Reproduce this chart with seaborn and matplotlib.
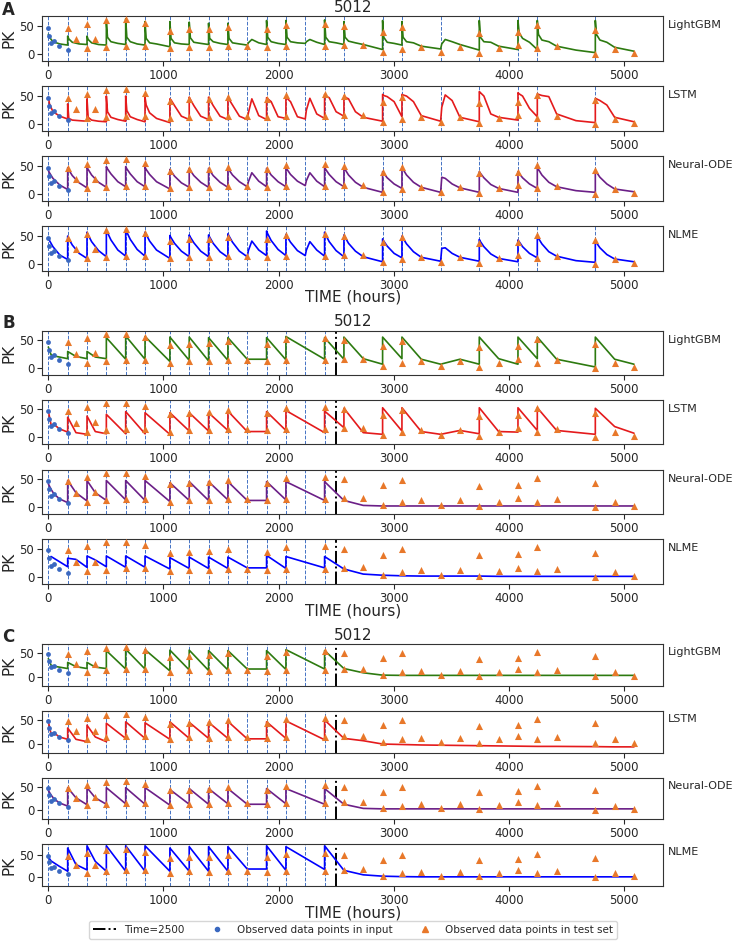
"""
PK predictions for subject 5012: LightGBM / LSTM / Neural-ODE / NLME
Three panels (A, B, C), four rows each, observed points on top.
"""

import numpy as np
import pandas as pd
import matplotlib
matplotlib.use("Agg")
import matplotlib.pyplot as plt
from matplotlib.lines import Line2D
import seaborn as sns

# ---------------------------------------------------------------------------
# Observed data
# ---------------------------------------------------------------------------

input_time = [0, 2, 24, 48, 96, 168]
input_pk = [47, 33, 20, 23, 14, 7]

test_time = [168, 240, 336, 336, 408, 504, 504, 672, 672, 840, 840,
             1056, 1056, 1224, 1224, 1392, 1392, 1560, 1560, 1728,
             1896, 1896, 2064, 2064, 2400, 2400, 2568, 2568, 2736,
             2904, 2904, 3072, 3072, 3240, 3408, 3576, 3744, 3744,
             3912, 4080, 4080, 4248, 4248, 4416, 4752, 4752, 4920, 5088]
test_pk = [47, 26, 54, 10, 27, 61, 13, 62, 15, 56, 15,
           42, 10, 44, 13, 45, 12, 49, 14, 14,
           44, 12, 52, 14, 54, 14, 50, 16, 17,
           39, 3, 49, 9, 12, 3, 12, 38, 2,
           10, 40, 16, 52, 10, 14, 43, 0.5, 9, 2]

dose_time = [0, 168, 336, 504, 672, 840, 1056, 1224, 1392, 1560, 1728,
             1896, 2064, 2232, 2400, 2568, 2904, 3072, 3408, 3744, 4080,
             4248, 4752]

CUTOFF = 2500

# ---------------------------------------------------------------------------
# Panel A: dense predictions (one row per dose: pre, peak, +10, +40, +100 ...)
# ---------------------------------------------------------------------------

a_time = [
    0, 10, 40, 100,
    168, 168, 178, 208, 268,
    336, 336, 346, 376, 436,
    504, 504, 514, 544, 604,
    672, 672, 682, 712, 772,
    840, 840, 850, 880, 940,
    1056, 1056, 1066, 1096, 1156,
    1224, 1224, 1234, 1264, 1324,
    1392, 1392, 1402, 1432, 1492,
    1560, 1560, 1570, 1600, 1660,
    1728, 1728, 1738, 1768, 1828,
    1896, 1896, 1906, 1936, 1996,
    2064, 2064, 2074, 2104, 2164,
    2232, 2232, 2242, 2272, 2332,
    2400, 2400, 2410, 2440, 2500,
    2568, 2568, 2578, 2608, 2668, 2736,
    2904, 2904, 2914, 2944, 3004,
    3072, 3072, 3082, 3112, 3172, 3240,
    3408, 3408, 3418, 3448, 3508, 3576,
    3744, 3744, 3754, 3784, 3844, 3912,
    4080, 4080, 4090, 4120, 4180,
    4248, 4248, 4258, 4288, 4348, 4416, 4584,
    4752, 4752, 4762, 4792, 4852, 4920, 5088,
]

a_lgbm = [
    35, 30, 22, 18,
    16, 32, 27, 21, 18,
    17, 32, 26, 20, 17,
    16, 58, 30, 22, 19,
    17, 63, 30, 22, 18,
    16, 58, 28, 20, 18,
    13, 58, 28, 20, 18,
    17, 57, 29, 21, 19,
    17, 55, 28, 22, 19,
    17, 55, 28, 20, 18,
    16, 16, 20, 26, 20,
    17, 60, 30, 22, 19,
    17, 60, 30, 22, 20,
    19, 19, 22, 26, 21,
    17, 61, 30, 22, 20,
    17, 58, 30, 23, 20, 17,
    8, 60, 30, 21, 19,
    16, 58, 30, 22, 20, 14,
    9, 9, 18, 26, 22, 17,
    7, 60, 30, 22, 21, 14,
    8, 60, 38, 28, 21,
    8, 60, 35, 25, 22, 14, 7,
    2.5, 60, 35, 25, 21, 12, 5,
]

a_lstm = [
    48, 36, 22, 14,
    9, 36, 10, 7, 6,
    5, 45, 12, 7, 5,
    4, 50, 22, 12, 8,
    5, 50, 24, 13, 8,
    4, 48, 34, 20, 10,
    2.5, 45, 43, 33, 14,
    8, 48, 44, 33, 14,
    8, 48, 44, 33, 14,
    8, 48, 44, 34, 14,
    8, 8, 20, 45, 15,
    8, 47, 45, 40, 13,
    10, 48, 46, 40, 13,
    9, 9, 25, 46, 18,
    10, 53, 50, 47, 22,
    14, 50, 48, 45, 22, 12,
    5, 53, 51, 49, 40,
    13, 53, 52, 50, 40, 15,
    5, 5, 30, 52, 42, 12,
    4, 58, 56, 50, 18, 12,
    7, 56, 54, 50, 28,
    13, 54, 53, 51, 49, 18, 6,
    2.5, 46, 45, 42, 34, 12, 4,
]

a_node = [
    42, 38, 28, 16,
    8, 47, 43, 33, 20,
    11, 48, 44, 34, 21,
    12, 49, 45, 36, 22,
    13, 49, 45, 36, 22,
    13, 48, 44, 35, 22,
    9, 44, 41, 32, 20,
    12, 46, 42, 33, 21,
    12, 46, 42, 33, 21,
    12, 46, 43, 34, 22,
    13, 13, 22, 38, 23,
    13, 46, 43, 34, 22,
    13, 47, 44, 35, 23,
    15, 15, 24, 38, 23,
    13, 48, 44, 35, 22,
    13, 48, 44, 34, 21, 12,
    3, 40, 37, 29, 18,
    10, 48, 44, 34, 21, 12,
    3, 3, 30, 28, 18, 11,
    3, 40, 37, 29, 17, 10,
    3, 40, 37, 29, 18,
    10, 48, 44, 34, 21, 13, 6,
    3, 42, 39, 30, 18, 9, 4,
]

a_nlme = [
    47, 42, 31, 16,
    8, 50, 45, 34, 19,
    10, 57, 52, 40, 24,
    13, 61, 56, 43, 25,
    14, 62, 57, 44, 26,
    14, 57, 53, 41, 25,
    10, 51, 47, 37, 23,
    13, 52, 48, 38, 23,
    13, 52, 48, 37, 22,
    12, 54, 50, 39, 23,
    13, 13, 24, 41, 25,
    15, 59, 54, 42, 26,
    15, 53, 49, 39, 24,
    15, 15, 25, 40, 25,
    14, 57, 52, 40, 24,
    13, 52, 48, 37, 23, 13,
    4, 45, 41, 32, 19,
    11, 50, 46, 36, 22, 12,
    5, 5, 28, 29, 19, 12,
    5, 44, 40, 31, 18, 10,
    4, 43, 40, 31, 19,
    11, 50, 46, 36, 22, 14, 6,
    3, 41, 38, 29, 17, 9, 4,
]

# ---------------------------------------------------------------------------
# Panels B and C: predictions at the observation times only
# ---------------------------------------------------------------------------

bc_time = [
    0, 24, 48, 96, 168, 168, 240, 336, 336, 408,
    504, 504, 672, 672, 840, 840, 1056, 1056, 1224, 1224,
    1392, 1392, 1560, 1560, 1728, 1896, 1896, 2064, 2064, 2400,
    2400, 2568, 2568, 2736, 2904, 2904, 3072, 3072, 3240, 3408,
    3576, 3744, 3744, 3912, 4080, 4080, 4248, 4248, 4416, 4752,
    4752, 4920, 5088,
]

b_lgbm = [
    38, 24, 22, 20, 17, 30, 21, 17, 30, 20,
    17, 55, 16, 58, 16, 57, 12, 56, 14, 56,
    13, 55, 14, 55, 16, 16, 55, 15, 57, 16,
    55, 16, 56, 17, 7, 56, 17, 56, 16, 7,
    16, 7, 56, 17, 7, 56, 17, 56, 16, 2,
    56, 16, 7,
]
b_lstm = [
    47, 22, 23, 15, 9, 36, 8, 5, 38, 10,
    6, 41, 6, 46, 6, 44, 5, 44, 11, 44,
    11, 44, 12, 47, 10, 10, 46, 12, 48, 8,
    47, 17, 52, 8, 5, 53, 11, 53, 10, 5,
    12, 6, 53, 10, 9, 53, 12, 53, 12, 5,
    52, 19, 7,
]
b_node = [
    42, 32, 24, 15, 8, 48, 26, 11, 48, 26,
    12, 48, 13, 48, 12, 48, 10, 44, 12, 46,
    12, 46, 13, 46, 12, 12, 46, 13, 46, 12,
    46, 12, 12, 3, 2, 2, 2, 2, 2, 2,
    2, 2, 2, 2, 2, 2, 2, 2, 2, 2,
    2, 2, 2,
]
b_nlme = [
    33, 36, 33, 27, 18, 33, 31, 17, 37, 30,
    18, 37, 17, 37, 17, 37, 14, 34, 15, 35,
    15, 35, 15, 35, 16, 16, 38, 15, 36, 16,
    36, 14, 14, 5, 3, 3, 2, 2, 1.5, 1.5,
    1.5, 1.5, 1.5, 1, 1, 1, 1, 1, 1, 1,
    1, 1, 1,
]

c_lgbm = [
    38, 24, 22, 20, 17, 30, 21, 17, 30, 20,
    17, 55, 16, 58, 16, 57, 12, 56, 14, 56,
    13, 55, 14, 55, 16, 16, 55, 15, 57, 16,
    55, 17, 17, 8, 3, 3, 2.5, 2.5, 2.5, 2.5,
    2.5, 2.5, 2.5, 2.5, 2.5, 2.5, 2.5, 2.5, 2.5, 2.5,
    2.5, 2.5, 2.5,
]
c_lstm = [
    47, 20, 23, 14, 9, 33, 9, 4, 39, 14,
    4, 43, 11, 46, 11, 44, 9, 46, 11, 45,
    11, 45, 11, 47, 10, 10, 46, 11, 48, 8,
    50, 11, 11, 6, -1, -1, -2, -2, -3, -3.5,
    -4, -4.5, -4.5, -5, -5.5, -5.5, -6, -6, -6, -6.5,
    -6.5, -7, -7,
]
c_node = [
    42, 32, 24, 15, 8, 48, 26, 11, 48, 26,
    12, 48, 13, 48, 12, 48, 10, 44, 12, 46,
    12, 46, 13, 46, 12, 12, 46, 13, 46, 12,
    46, 12, 12, 3, 2, 2, 2, 2, 2, 2,
    2, 2, 2, 2, 2, 2, 2, 2, 2, 2,
    2, 2, 2,
]
c_nlme = [
    45, 36, 32, 24, 13, 65, 28, 16, 70, 35,
    13, 70, 13, 70, 13, 70, 13, 65, 13, 68,
    13, 68, 13, 68, 18, 18, 70, 15, 68, 17,
    70, 15, 15, 5, 2, 2, 1, 1, 0.5, 0.5,
    0.5, 0.5, 0.5, 0.5, 0.5, 0.5, 0.5, 0.5, 0.5, 0.5,
    0.5, 0.5, 0.5,
]

model_names = ["LightGBM", "LSTM", "Neural-ODE", "NLME"]
model_colors = ["#2d7a10", "#e41a1c", "#6b1f87", "#0000ff"]

# ---------------------------------------------------------------------------
# Style / layout
# ---------------------------------------------------------------------------

sns.set_style("ticks")
plt.rcParams["font.family"] = ["DejaVu Sans"]
plt.rcParams["axes.edgecolor"] = "#333333"

W, H = 736, 941
fig = plt.figure(figsize=(W / 100, H / 100), dpi=100)

X0, X1 = 42, 663
DOSE_COLOR = "#4472c4"
TRI_COLOR = "#e8782a"
DOT_COLOR = "#3a68c0"


def add_ax(top, bottom):
    return fig.add_axes([X0 / W, 1 - bottom / H, (X1 - X0) / W, (bottom - top) / H])


def draw_row(ax, t, y, color, name, doses, ylim, cutoff=False):
    for d in doses:
        ax.axvline(d, color=DOSE_COLOR, ls="--", lw=0.7, zorder=1)
    if cutoff:
        ax.axvline(CUTOFF, color="black", ls="-.", lw=1.4, zorder=2)
    df = pd.DataFrame({"TIME": t, "PK": y})
    sns.lineplot(data=df, x="TIME", y="PK", estimator=None, sort=False,
                 color=color, lw=1.2, ax=ax, zorder=2)
    sns.scatterplot(x=test_time, y=test_pk, marker="^", s=26,
                    color=TRI_COLOR, linewidth=0, ax=ax, zorder=3)
    sns.scatterplot(x=input_time, y=input_pk, marker="o", s=12,
                    color=DOT_COLOR, linewidth=0, ax=ax, zorder=4)
    ax.set_xlim(-55, 5340)
    ax.set_ylim(*ylim)
    ax.set_xticks([0, 1000, 2000, 3000, 4000, 5000])
    ax.set_yticks([0, 50])
    ax.tick_params(labelsize=8.5, length=3.5, width=0.8, pad=2)
    ax.set_xlabel("")
    ax.set_ylabel("PK", fontsize=11, labelpad=2)
    ax.text(1.008, 0.8, name, transform=ax.transAxes, ha="left",
            va="center", fontsize=8)


panels = [
    ("A", [(16, 61), (86, 131), (156, 201), (226, 271)],
     [a_lgbm, a_lstm, a_node, a_nlme], a_time, dose_time,
     [(-12.5, 68)] * 4, False, 8),
    ("B", [(331, 375), (400, 444), (470, 514), (539, 584)],
     [b_lgbm, b_lstm, b_node, b_nlme], bc_time,
     [d for d in dose_time if d < CUTOFF],
     [(-12.5, 67)] * 4, True, 321),
    ("C", [(644, 686), (711, 753), (778, 819), (844, 886)],
     [c_lgbm, c_lstm, c_node, c_nlme], bc_time,
     [d for d in dose_time if d < CUTOFF],
     [(-20, 69), (-20, 69), (-20, 69), (-20, 74)], True, 635),
]

for letter, rows, series, t, doses, ylims, cutoff, title_y in panels:
    for (top, bottom), y, color, name, ylim in zip(rows, series, model_colors,
                                                 model_names, ylims):
        ax = add_ax(top, bottom)
        draw_row(ax, t, y, color, name, doses, ylim, cutoff)
    fig.text(353 / W, 1 - title_y / H, "5012", ha="center", va="center",
             fontsize=11)
    fig.text(2 / W, 1 - (title_y + 2) / H, letter, ha="left", va="center",
             fontsize=12, fontweight="bold")
    # x label just below the tick labels of the last row
    fig.text(353 / W, 1 - (rows[-1][1] + 19) / H, "TIME (hours)",
             ha="center", va="top", fontsize=11)

handles = [
    Line2D([], [], color="black", ls="-.", lw=1.4),
    Line2D([], [], color=DOT_COLOR, marker="o", ls="", markersize=3),
    Line2D([], [], color=TRI_COLOR, marker="^", ls="", markersize=5),
]
labels = ["Time=2500", "Observed data points in input",
          "Observed data points in test set"]
fig.legend(handles, labels, loc="center", bbox_to_anchor=(353 / W, 1 - 930 / H),
           ncol=3, fontsize=7.5, frameon=True, handlelength=2.2,
           columnspacing=2.0, borderpad=0.4, handletextpad=0.8)

fig.savefig("out.png", dpi=100)
